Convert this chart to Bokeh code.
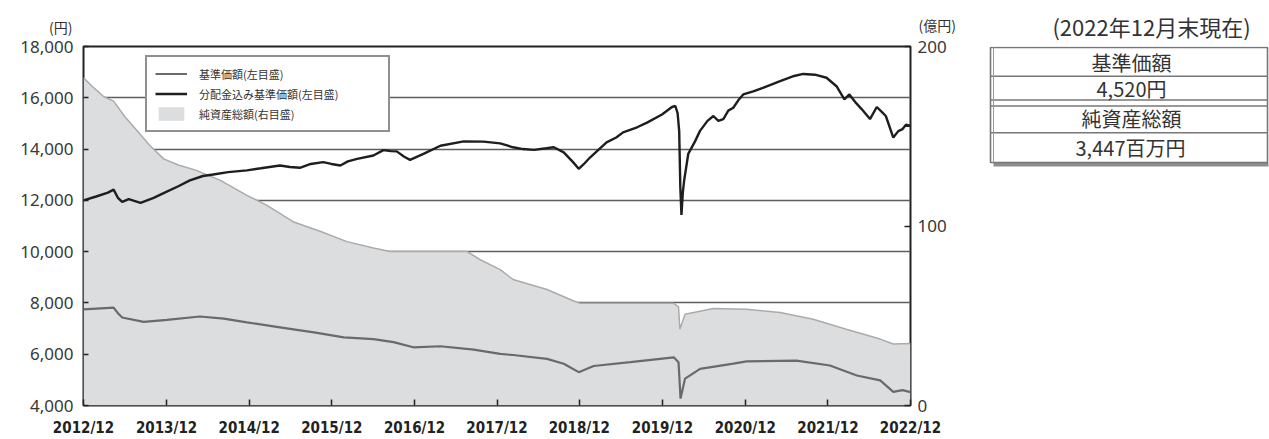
import pandas as pd
from bokeh.plotting import figure
from bokeh.models import (Range1d, LinearAxis, FixedTicker, NumeralTickFormatter,
                          DatetimeTickFormatter, Legend, LegendItem, Label)
from bokeh.layouts import row
from bokeh.embed import file_html
from bokeh.resources import INLINE
from bokeh.core.properties import value

# ---------------- data ----------------
tr_dates = ["2012-12-28", "2013-02-22", "2013-04-15", "2013-05-10", "2013-05-29", "2013-06-17",
            "2013-07-16", "2013-09-06", "2013-11-03", "2013-12-17", "2014-02-20", "2014-04-12",
            "2014-06-09", "2014-07-24", "2014-09-28", "2014-12-20", "2015-02-20", "2015-05-15",
            "2015-06-28", "2015-08-11", "2015-09-28", "2015-11-22", "2015-12-28", "2016-02-06",
            "2016-03-10", "2016-04-20", "2016-07-01", "2016-08-14", "2016-09-16", "2016-10-12",
            "2016-11-14", "2016-12-10", "2017-02-07", "2017-04-23", "2017-08-04", "2017-10-30",
            "2018-01-12", "2018-03-10", "2018-04-23", "2018-06-10", "2018-08-04", "2018-09-06",
            "2018-10-20", "2018-11-29", "2018-12-25", "2019-01-15", "2019-02-14", "2019-04-27",
            "2019-06-09", "2019-07-09", "2019-09-09", "2019-10-23", "2019-12-28", "2020-02-10",
            "2020-02-25", "2020-03-06", "2020-03-13", "2020-03-18", "2020-03-23", "2020-03-29",
            "2020-04-04", "2020-04-22", "2020-05-22", "2020-06-13", "2020-07-16", "2020-08-11",
            "2020-09-02", "2020-09-24", "2020-10-16", "2020-11-07", "2020-11-29", "2020-12-21",
            "2021-02-03", "2021-03-18", "2021-06-02", "2021-08-03", "2021-09-12", "2021-11-03",
            "2021-12-24", "2022-02-06", "2022-03-13", "2022-04-04", "2022-05-03", "2022-05-29",
            "2022-07-04", "2022-08-03", "2022-08-25", "2022-09-12", "2022-10-15", "2022-11-06",
            "2022-11-25", "2022-12-10", "2022-12-30"]
tr_values = [12000, 12150, 12300, 12420, 12100, 11940,
             12050, 11900, 12100, 12280, 12550, 12780,
             12950, 13010, 13100, 13170, 13250, 13360,
             13300, 13270, 13420, 13490, 13420, 13360,
             13520, 13620, 13750, 13960, 13920, 13910,
             13700, 13580, 13810, 14130, 14300, 14290,
             14220, 14070, 14000, 13970, 14030, 14070,
             13870, 13500, 13230, 13400, 13680, 14260,
             14450, 14650, 14850, 15030, 15350, 15640,
             15680, 15400, 14700, 12500, 11430, 12300,
             12780, 13810, 14300, 14710, 15100, 15290,
             15100, 15170, 15500, 15610, 15900, 16130,
             16250, 16390, 16650, 16850, 16930, 16900,
             16780, 16450, 15940, 16130, 15800, 15550,
             15170, 15640, 15450, 15290, 14450, 14700,
             14780, 14950, 14900]

nav_dates = ["2012-12-28", "2013-05-10", "2013-05-29", "2013-06-17", "2013-09-20", "2014-01-01",
             "2014-05-26", "2014-09-09", "2014-12-20", "2015-05-15", "2015-10-12", "2016-02-21",
             "2016-07-01", "2016-09-28", "2016-12-24", "2017-04-23", "2017-09-17", "2018-01-12",
             "2018-03-10", "2018-08-07", "2018-10-20", "2018-12-25", "2019-03-01", "2019-08-10",
             "2020-02-18", "2020-03-10", "2020-03-19", "2020-04-08", "2020-06-13", "2020-11-07",
             "2021-01-05", "2021-08-13", "2022-01-08", "2022-05-07", "2022-08-18", "2022-10-15",
             "2022-11-25", "2022-12-30"]
nav_values = [7750, 7820, 7600, 7430, 7260, 7340,
              7470, 7390, 7240, 7050, 6850, 6660,
              6590, 6470, 6270, 6310, 6180, 6010,
              5970, 5820, 5630, 5300, 5540, 5690,
              5880, 5690, 4270, 5050, 5430, 5630,
              5720, 5750, 5560, 5170, 4980, 4530,
              4600, 4520]

aum_dates = ["2012-12-28", "2013-02-03", "2013-03-28", "2013-05-10", "2013-06-28", "2013-08-22",
             "2013-10-16", "2013-12-17", "2014-02-20", "2014-05-11", "2014-08-25", "2014-12-20",
             "2015-03-17", "2015-07-12", "2015-11-11", "2016-03-06", "2016-07-01", "2016-09-13",
             "2016-12-24", "2017-08-18", "2017-10-16", "2018-01-12", "2018-03-10", "2018-08-07",
             "2018-12-03", "2019-01-01", "2019-08-10", "2020-02-18", "2020-03-10", "2020-03-16",
             "2020-04-08", "2020-08-11", "2021-01-05", "2021-06-02", "2021-10-26", "2022-03-21",
             "2022-08-18", "2022-10-15", "2022-12-30"]
aum_values = [182.5, 178, 172, 169.6, 161, 153,
              145, 137.4, 134, 131, 125.4, 117.1,
              111.6, 102.4, 96.9, 91.3, 87.7, 85.8,
              85.8, 85.8, 81.2, 75.7, 70.2, 64.6,
              58.2, 56.9, 56.9, 56.9, 55.0, 42.5,
              50.8, 54.0, 53.6, 51.8, 48.1, 42.5,
              37.0, 34.3, 34.5]

tick_dates = ["2012-12-28", "2013-12-30", "2014-12-30", "2015-12-30", "2016-12-30", "2017-12-29",
              "2018-12-28", "2019-12-30", "2020-12-30", "2021-12-30", "2022-12-30"]
left_ticks = [4000, 6000, 8000, 10000, 12000, 14000, 16000, 18000]
grid_ticks = [6000, 8000, 10000, 12000, 14000, 16000]
right_ticks = [0, 100, 200]

legend_labels = ["基準価額(左目盛)", "分配金込み基準価額(左目盛)", "純資産総額(右目盛)"]
left_unit = "(円)"
right_unit = "(億円)"
table_title = "(2022年12月末現在)"
table_rows = ["基準価額", "4,520円", "純資産総額", "3,447百万円"]

# ---------------- main chart ----------------
NUM_FONT = "Noto Sans"
CJK_FONT = "Noto Sans CJK JP"
BORDER_TOP, BORDER_BOTTOM = 46, 31

tr_x = pd.to_datetime(tr_dates)
nav_x = pd.to_datetime(nav_dates)
aum_x = pd.to_datetime(aum_dates)
tick_ms = [pd.Timestamp(d).timestamp() * 1000 for d in tick_dates]

p = figure(width=978, height=439, x_axis_type="datetime",
           x_range=Range1d(pd.Timestamp(tick_dates[0]), pd.Timestamp(tick_dates[-1])),
           y_range=Range1d(4000, 18000), title_location=None,
           output_backend="svg", toolbar_location=None,
           min_border_left=83, min_border_right=68,
           min_border_top=BORDER_TOP, min_border_bottom=BORDER_BOTTOM)
p.extra_y_ranges = {"aum": Range1d(0, 200)}

p.outline_line_color = "#222222"
p.outline_line_width = 2
p.background_fill_color = "white"
p.border_fill_color = "white"

p.xgrid.visible = False
p.ygrid.ticker = FixedTicker(ticks=grid_ticks)
p.ygrid.grid_line_color = "#5e5e5e"
p.ygrid.grid_line_width = 1.6

area = p.varea(x=aum_x, y1=0, y2=aum_values, y_range_name="aum",
               fill_color="#dcdddf", fill_alpha=1.0)
p.line(aum_x, aum_values, y_range_name="aum", line_color="#ababab", line_width=1.5)
nav_line = p.line(nav_x, nav_values, line_color="#6a6a6a", line_width=2.2)
tr_line = p.line(tr_x, tr_values, line_color="#1e1e1e", line_width=2.4)

# left axis
ya = p.yaxis[0]
ya.ticker = FixedTicker(ticks=left_ticks)
ya.formatter = NumeralTickFormatter(format="0,0")
ya.axis_line_color = None
ya.major_tick_in = 5
ya.major_tick_out = 0
ya.major_tick_line_color = "#222222"
ya.major_tick_line_width = 1.5
ya.minor_tick_line_color = None
ya.major_label_standoff = 10
ya.major_label_text_font = NUM_FONT
ya.major_label_text_font_size = "17px"
ya.major_label_text_color = "#383838"

# right axis
ra = LinearAxis(y_range_name="aum", ticker=FixedTicker(ticks=right_ticks))
ra.axis_line_color = None
ra.major_tick_in = 6
ra.major_tick_out = 0
ra.major_tick_line_color = "#222222"
ra.major_tick_line_width = 1.5
ra.minor_tick_line_color = None
ra.major_label_standoff = 7
ra.major_label_text_font = NUM_FONT
ra.major_label_text_font_size = "17px"
ra.major_label_text_color = "#383838"
p.add_layout(ra, "right")

# x axis
xa = p.xaxis[0]
xa.ticker = FixedTicker(ticks=tick_ms)
fmt = "%Y/%m"
xa.formatter = DatetimeTickFormatter(microseconds=fmt, milliseconds=fmt, seconds=fmt, minsec=fmt,
                                     minutes=fmt, hourmin=fmt, hours=fmt, days=fmt,
                                     months=fmt, years=fmt)
xa.axis_line_color = None
xa.major_tick_in = 6
xa.major_tick_out = 0
xa.major_tick_line_color = "#222222"
xa.major_tick_line_width = 1.5
xa.minor_tick_line_color = None
xa.major_label_standoff = 13
xa.major_label_text_font = "Liberation Sans Narrow, DejaVu Sans Condensed, Roboto"
xa.major_label_text_font_style = "bold"
xa.major_label_text_font_size = "15px"
xa.major_label_text_color = "#222222"

# legend
legend = Legend(items=[LegendItem(label=legend_labels[0], renderers=[nav_line]),
                       LegendItem(label=legend_labels[1], renderers=[tr_line]),
                       LegendItem(label=legend_labels[2], renderers=[area])],
                location=(62, 273), orientation="vertical", margin=0, padding=8,
                spacing=3, glyph_width=32, glyph_height=17, label_height=17,
                label_width=181, label_standoff=12,
                label_text_font=CJK_FONT, label_text_font_size="11px",
                label_text_color="#333333",
                border_line_color="#222222", border_line_width=2,
                background_fill_color="white", background_fill_alpha=1.0)
p.add_layout(legend, "center")

# unit captions (placed in the top side panel so that they are not clipped to the frame)
p.add_layout(Label(x=835, y=22, x_units="screen", y_units="screen", text=right_unit,
                   text_align="left", text_baseline="middle", text_font=CJK_FONT,
                   text_font_size="14px", text_color="#333333"), "above")
p.add_layout(Label(x=-11, y=0, x_units="screen", y_units="screen", text=left_unit,
                   text_align="right", text_baseline="middle", text_font=CJK_FONT,
                   text_font_size="14px", text_color="#333333"), "above")

# ---------------- summary table ----------------
# frame is aligned with the chart frame (rows 46..408); data units equal page pixels
T_LEFT, T_RIGHT = 978, 1269
t = figure(width=T_RIGHT - T_LEFT, height=439,
           x_range=Range1d(T_LEFT, T_RIGHT), y_range=Range1d(439 - BORDER_BOTTOM, BORDER_TOP),
           output_backend="svg", toolbar_location=None, title_location=None,
           min_border_left=0, min_border_right=0,
           min_border_top=BORDER_TOP, min_border_bottom=BORDER_BOTTOM,
           x_axis_location=None, y_axis_location=None)
t.outline_line_color = None
t.grid.visible = False
t.background_fill_color = "white"
t.border_fill_color = "white"

tx0, tx1 = 990, 1267
row_lines = [76, 100, 106, 133]
top_y, bot_y = 47, 163

t.quad(left=[tx0 + 3], right=[tx1 + 1], top=[bot_y], bottom=[bot_y + 4],
       fill_color="#8e8e8e", line_color=None)
t.quad(left=[tx0], right=[tx1], top=[top_y], bottom=[bot_y],
       fill_color="white", line_color="#777777", line_width=1.6)
t.segment(x0=[tx0] * len(row_lines), x1=[tx1] * len(row_lines), y0=row_lines, y1=row_lines,
          line_color="#777777", line_width=1.4)
t.segment(x0=[tx0 + 3], x1=[tx0 + 3], y0=[top_y], y1=[bot_y], line_color="#9a9a9a", line_width=1)

t.add_layout(Label(x=1151 - T_LEFT, y=BORDER_TOP - 25, x_units="screen", y_units="screen",
                   text=table_title, text_align="center", text_baseline="middle",
                   text_font=CJK_FONT, text_font_size="22px", text_color="#333333"), "above")
t.text(x=[1131, 1131, 1131, 1130], y=[62, 88, 119, 148], text=table_rows,
       text_font=value(CJK_FONT), text_font_size="20px",
       text_align="center", text_baseline="middle", text_color="#333333")

layout = row(p, t)
open("out.html", "w").write(file_html(layout, INLINE))
